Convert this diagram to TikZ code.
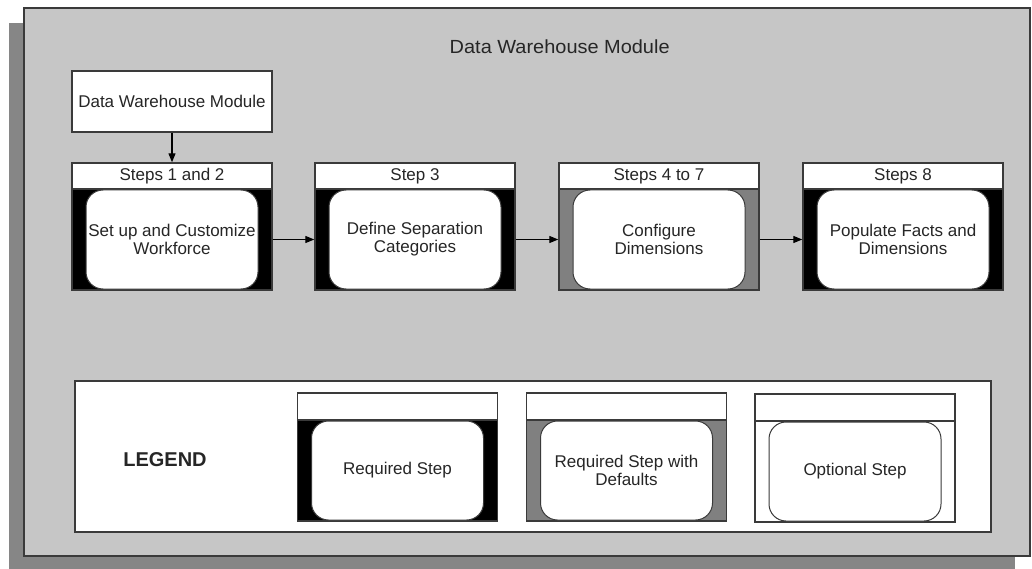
\documentclass[tikz,border=0pt]{standalone}
\usepackage{fontspec}
\setmainfont{Liberation Sans}
\usetikzlibrary{arrows.meta}
\definecolor{panelgray}{HTML}{C6C6C6}
\definecolor{shadowgray}{HTML}{868686}
\definecolor{defgray}{HTML}{808080}
\definecolor{edge}{HTML}{3A3A3A}
\definecolor{ink}{HTML}{262626}
\tikzset{
  basefont/.style={font=\fontsize{17}{18}\selectfont, text=ink},
  plainbox/.style={draw=edge, line width=1.4pt, fill=white, inner sep=0pt, basefont},
  stepbody/.style={draw=edge, line width=1.4pt, inner sep=0pt, minimum width=200pt, minimum height=101pt},
  stephead/.style={plainbox, minimum width=200pt, minimum height=26pt},
  stepcore/.style={draw=edge, line width=1pt, fill=white, rounded corners=17pt, inner sep=0pt,
                   minimum width=172pt, minimum height=99pt, align=center, basefont},
  flow/.style={draw=black, line width=1.2pt, -{Triangle[length=9pt,width=7pt]}},
}
\begin{document}
\begin{tikzpicture}[x=1pt, y=-1pt]
  \useasboundingbox (0,0) rectangle (1032,569);
  % module panel with its drop shadow
  \fill[shadowgray] (9,23) rectangle (1015,569);
  \filldraw[fill=panelgray, draw=edge, line width=1.5pt] (24,8) rectangle (1030,556);
  \node[basefont, font=\fontsize{19}{20}\selectfont, anchor=west, xscale=1.05] (title) at (446,47) {Data Warehouse Module};

  % entry box
  \node[plainbox, minimum width=200pt, minimum height=61pt] (dw) at (172,101.5) {Data Warehouse Module};

  % step 1-2 (required)
  \node[stepbody, fill=black] (b1) at (172,239.5) {};
  \node[stephead] (h1) at (172,176) {Steps 1 and 2};
  \node[stepcore] (t1) at (172,239.5) {Set up and Customize\\Workforce};
  % step 3 (required)
  \node[stepbody, fill=black] (b2) at (415,239.5) {};
  \node[stephead] (h2) at (415,176) {Step 3};
  \node[stepcore] (t2) at (415,239.5) {Define Separation\\Categories};
  % steps 4-7 (required with defaults)
  \node[stepbody, fill=defgray] (b3) at (659,239.5) {};
  \node[stephead] (h3) at (659,176) {Steps 4 to 7};
  \node[stepcore] (t3) at (659,239.5) {Configure\\Dimensions};
  % step 8 (required)
  \node[stepbody, fill=black] (b4) at (903,239.5) {};
  \node[stephead] (h4) at (903,176) {Steps 8};
  \node[stepcore] (t4) at (903,239.5) {Populate Facts and\\Dimensions};

  % flow
  \draw[flow] (dw.south) -- (h1.north);
  \draw[flow] (b1.east) -- (b2.west);
  \draw[flow] (b2.east) -- (b3.west);
  \draw[flow] (b3.east) -- (b4.west);

  % legend
  \node[plainbox, minimum width=916pt, minimum height=151pt] (legend) at (533,456.5) {};
  \node[basefont, font=\fontsize{20}{20}\bfseries\selectfont] (lgtitle) at (165,460) {LEGEND};

  \node[stepbody, fill=black] (lb1) at (397.5,470.5) {};
  \node[stephead, minimum height=27pt] (lh1) at (397.5,406.5) {};
  \node[stepcore] (lt1) at (397.5,470.5) {Required Step};

  \node[stepbody, fill=defgray] (lb2) at (626.5,470.5) {};
  \node[stephead, minimum height=27pt] (lh2) at (626.5,406.5) {};
  \node[stepcore] (lt2) at (626.5,470.5) {Required Step with\\Defaults};

  \node[stepbody, fill=white] (lb3) at (855,471.5) {};
  \node[stephead, minimum height=27pt] (lh3) at (855,407.5) {};
  \node[stepcore] (lt3) at (855,471.5) {Optional Step};
\end{tikzpicture}
\end{document}
